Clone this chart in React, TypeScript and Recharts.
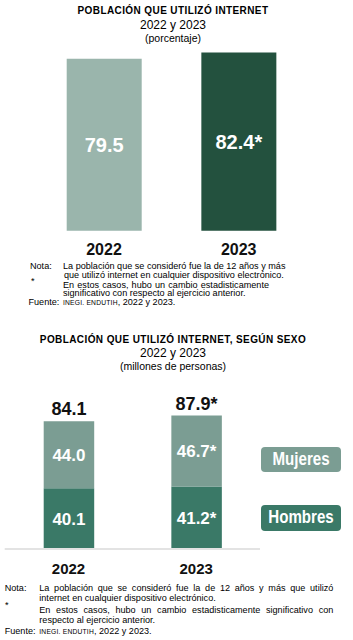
import React from 'react';
import { BarChart, Bar, XAxis, YAxis, Cell, LabelList, Legend } from 'recharts';

const years = ['2022', '2023'];
const pctValues = [79.5, 82.4];
const pctLabels = ['79.5', '82.4*'];
const pctColors = ['#9ab5ac', '#23513e'];

const mujeres = [44.0, 46.7];
const hombres = [40.1, 41.2];
const mujeresLabels = ['44.0', '46.7*'];
const hombresLabels = ['40.1', '41.2*'];
const totalLabels = ['84.1', '87.9*'];

const colorMujeres = '#7b9d93';
const colorHombres = '#3a7967';

const FONT = '"Liberation Sans", Arial, sans-serif';
const NS = 9.1;

const pctData = years.map((y, i) => ({ year: y, value: pctValues[i], label: pctLabels[i] }));
const sexData = years.map((y, i) => ({
  year: y,
  hombres: hombres[i],
  mujeres: mujeres[i],
  hLabel: hombresLabels[i],
  mLabel: mujeresLabels[i],
  tLabel: totalLabels[i],
}));

const T = ({ x, y, w, size, bold, children, align, style }: any) => (
  <div
    style={{
      position: 'absolute',
      left: x,
      top: y - 7,
      width: w,
      height: 14,
      lineHeight: '14px',
      fontSize: size,
      fontWeight: bold ? 'bold' : 'normal',
      textAlign: align || 'left',
      whiteSpace: 'nowrap',
      color: '#000',
      ...style,
    }}
  >
    {children}
  </div>
);

const J = ({ x, y, w, size, children }: any) => (
  <div
    style={{
      position: 'absolute',
      left: x,
      top: y - 7,
      width: w,
      height: 14,
      lineHeight: '14px',
      fontSize: size,
      textAlign: 'justify',
      textAlignLast: 'justify',
      whiteSpace: 'nowrap',
      color: '#000',
    }}
  >
    {children}
  </div>
);

const Fuente = ({ x, x2, y, size }: any) => (
  <>
    <T x={x} y={y} size={size}>Fuente:</T>
    <T x={x2} y={y} size={size}>
      <span style={{ fontSize: size * 0.74, letterSpacing: 0.2 }}>INEGI. ENDUTIH</span>, 2022 y 2023.
    </T>
  </>
);

const LegendContent = () => (
  <div style={{ display: 'flex', flexDirection: 'column', gap: 32.7 }}>
    {[
      { name: 'Mujeres', color: colorMujeres },
      { name: 'Hombres', color: colorHombres },
    ].map((e) => (
      <div
        key={e.name}
        style={{
          width: 80,
          height: 25.6,
          background: e.color,
          borderRadius: 4,
          color: '#fff',
          fontWeight: 'bold',
          fontSize: 18,
          lineHeight: '25.6px',
          textAlign: 'center',
          fontFamily: FONT,
        }}
      >
        <span style={{ display: 'inline-block', transform: 'scaleX(0.84)' }}>{e.name}</span>
      </div>
    ))}
  </div>
);

export default function App() {
  return (
    <div
      style={{
        position: 'absolute',
        left: 0,
        top: 0,
        width: 353,
        height: 640,
        background: '#fff',
        fontFamily: FONT,
        overflow: 'hidden',
      }}
    >
      {/* Top titles */}
      <T x={0} y={11} w={346} size={10} bold align="center" style={{ letterSpacing: 0.4 }}>
        POBLACIÓN QUE UTILIZÓ INTERNET
      </T>
      <T x={0} y={25} w={346} size={12} align="center">2022 y 2023</T>
      <T x={0} y={38} w={346} size={10.5} align="center">(porcentaje)</T>

      <div style={{ position: 'absolute', left: 0, top: 0 }}>
        <BarChart
          width={353}
          height={270}
          data={pctData}
          margin={{ top: 14.4, right: 47, left: 36.7, bottom: 0 }}
        >
          <YAxis hide domain={[0, 100]} />
          <XAxis
            xAxisId="line"
            type="number"
            domain={[0, 2]}
            ticks={[0, 1, 2]}
            tick={false}
            height={0}
            axisLine={{ stroke: '#d9d9d9', strokeWidth: 1.5 }}
            tickLine={{ stroke: '#d9d9d9', strokeWidth: 1.2 }}
            tickSize={4}
          />
          <XAxis
            xAxisId="cat"
            dataKey="year"
            axisLine={false}
            tickLine={false}
            tickSize={0}
            tickMargin={12.5}
            height={39.3}
            tick={{ fill: '#111', fontSize: 16, fontWeight: 'bold', fontFamily: FONT }}
          />
          <Bar xAxisId="cat" dataKey="value" barSize={75} isAnimationActive={false}>
            {pctData.map((d, i) => (
              <Cell key={d.year} fill={pctColors[i]} />
            ))}
            <LabelList
              dataKey="label"
              position="center"
              fill="#fff"
              fontSize={20}
              fontWeight="bold"
              fontFamily={FONT}
            />
          </Bar>
        </BarChart>
      </div>

      {/* Top notes */}
      <T x={30} y={266} size={NS}>Nota:</T>
      <T x={63} y={266} size={NS}>La población que se consideró fue la de 12 años y más</T>
      <T x={64} y={275} size={NS}>que utilizó internet en cualquier dispositivo electrónico.</T>
      <T x={31} y={281} size={NS}>*</T>
      <J x={63} y={284.5} w={206} size={NS}>En estos casos, hubo un cambio estadisticamente</J>
      <T x={63} y={293} size={NS}>significativo con respecto al ejercicio anterior.</T>
      <Fuente x={28.5} x2={63} y={301.5} size={NS} />

      {/* Bottom titles */}
      <T x={0} y={340} w={346} size={10} bold align="center" style={{ letterSpacing: 0.4 }}>
        POBLACIÓN QUE UTILIZÓ INTERNET, SEGÚN SEXO
      </T>
      <T x={0} y={353.3} w={346} size={12} align="center">2022 y 2023</T>
      <T x={0} y={366} w={346} size={10.5} align="center">(millones de personas)</T>

      <div style={{ position: 'absolute', left: 0, top: 380 }}>
        <BarChart
          width={353}
          height={209}
          data={sexData}
          margin={{ top: 17.2, right: 93, left: 4.7, bottom: 0 }}
        >
          <YAxis hide domain={[0, 100]} />
          <XAxis
            dataKey="year"
            axisLine={{ stroke: '#e3e3e3', strokeWidth: 2 }}
            tickLine={false}
            tickSize={0}
            tickMargin={14}
            height={40}
            tick={{ fill: '#111', fontSize: 15, fontWeight: 'bold', fontFamily: FONT }}
          />
          <Legend
            layout="vertical"
            align="center"
            verticalAlign="middle"
            wrapperStyle={{ position: 'absolute', left: 261, top: 66.7, width: 80 }}
            content={() => <LegendContent />}
          />
          <Bar dataKey="hombres" name="Hombres" stackId="s" fill={colorHombres} barSize={50.5} isAnimationActive={false}>
            <LabelList dataKey="hLabel" position="center" fill="#fff" fontSize={17} fontWeight="bold" fontFamily={FONT} />
          </Bar>
          <Bar dataKey="mujeres" name="Mujeres" stackId="s" fill={colorMujeres} barSize={50.5} isAnimationActive={false}>
            <LabelList dataKey="mLabel" position="center" fill="#fff" fontSize={17} fontWeight="bold" fontFamily={FONT} />
            <LabelList dataKey="tLabel" position="top" offset={6} fill="#111" fontSize={18} fontWeight="bold" fontFamily={FONT} />
          </Bar>
        </BarChart>
      </div>

      {/* Bottom notes */}
      <T x={4.7} y={588} size={NS}>Nota:</T>
      <J x={39.3} y={588} w={294} size={NS}>La población que se consideró fue la de 12 años y más que utilizó</J>
      <T x={39.3} y={597.5} size={NS}>internet en cualquier dispositivo electrónico.</T>
      <T x={5} y={605} size={NS}>*</T>
      <J x={39.3} y={609.5} w={294} size={NS}>En estos casos, hubo un cambio estadisticamente significativo con</J>
      <T x={39.3} y={620} size={NS}>respecto al ejercicio anterior.</T>
      <Fuente x={4.7} x2={39.3} y={631} size={NS} />
    </div>
  );
}
